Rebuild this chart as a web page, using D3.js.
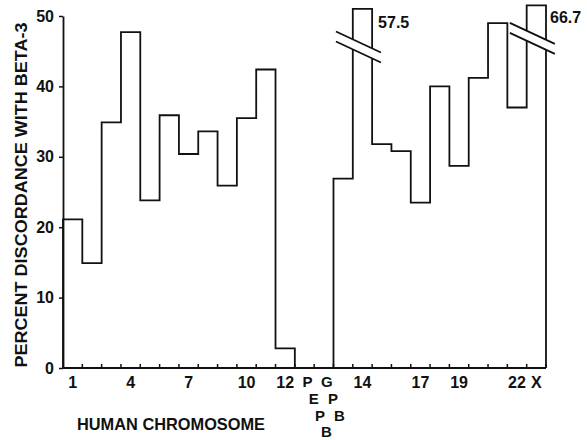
<!DOCTYPE html>
<html>
<head>
<meta charset="utf-8">
<script src="https://cdn.jsdelivr.net/npm/d3@7"></script>
<style>
  body { margin: 0; background: #fff; }
  text { font-family: "Liberation Sans", Arial, sans-serif; font-weight: bold; fill: #111; }
</style>
</head>
<body>
<div id="chart"></div>
<script>
// chromosome bins (PEPB and GPB marker columns sit between 12 and 13)
const chromosomes = ["1","2","3","4","5","6","7","8","9","10","11","12","PEPB","GPB",
  "13","14","15","16","17","18","19","20","21","22","X"];
// percent discordance with beta-3
const discordance = [21.1, 14.9, 34.9, 47.7, 23.8, 35.9, 30.4, 33.6, 25.9, 35.5, 42.4, 2.8, 0, 0,
  26.9, 57.5, 31.8, 30.8, 23.5, 40.0, 28.7, 41.2, 49.0, 37.0, 66.7];
// bars whose top is cut off by a break mark, and the height they are drawn to
const brokenCats = ["14", "X"];
const brokenShown = [51.0, 51.5];
const xTickLabels = ["1","4","7","10","12","14","17","19","22","X"];
const markerCols = ["PEPB", "GPB"];
const yTicks = [0, 10, 20, 30, 40, 50];

const width = 587, height = 440;
const margin = { top: 16, right: 41, bottom: 72, left: 63 };
const base = height - margin.bottom;
const ink = "#111";

const svg = d3.select("#chart").append("svg")
  .attr("width", width).attr("height", height);

const x = d3.scaleBand().domain(chromosomes)
  .range([margin.left, width - margin.right]).padding(0);
const y = d3.scaleLinear().domain([0, 50]).range([base, margin.top]);

// displayed value (capped for broken bars)
const shown = chromosomes.map((c, i) => {
  const k = brokenCats.indexOf(c);
  return k >= 0 ? brokenShown[k] : discordance[i];
});

// step outline
const pts = [[x(chromosomes[0]), y(0)]];
chromosomes.forEach((c, i) => {
  pts.push([x(c), y(shown[i])]);
  pts.push([x(c) + x.bandwidth(), y(shown[i])]);
});
pts.push([x(chromosomes[chromosomes.length - 1]) + x.bandwidth(), y(0)]);

svg.append("path")
  .attr("d", d3.line()(pts))
  .attr("fill", "none")
  .attr("stroke", ink)
  .attr("stroke-width", 1.8);

// break marks with the true value written beside them
brokenCats.forEach((c, k) => {
  const top = y(brokenShown[k]);
  const cx = x(c) + x.bandwidth() / 2 - 4;
  const cy = top + (c === "X" ? 33 : 38);
  const dx = 22.5, dy = 10.5, gap = 10;
  const g = svg.append("g");
  g.append("polygon")
    .attr("points", [[cx - dx, cy - dy - gap / 2], [cx + dx, cy + dy - gap / 2],
      [cx + dx, cy + dy + gap / 2], [cx - dx, cy - dy + gap / 2]].join(" "))
    .attr("fill", "#fff");
  [-gap / 2, gap / 2].forEach(o => {
    g.append("line")
      .attr("x1", cx - dx).attr("y1", cy - dy + o)
      .attr("x2", cx + dx).attr("y2", cy + dy + o)
      .attr("stroke", ink).attr("stroke-width", 1.8);
  });
  g.append("text")
    .attr("x", c === "X" ? x(c) + x.bandwidth() + 4 : x(c) + x.bandwidth() + 6)
    .attr("y", top + (c === "X" ? 18 : 19))
    .attr("font-size", 16)
    .text(discordance[chromosomes.indexOf(c)].toFixed(1));
});

// y axis
const yAxis = d3.axisLeft(y).tickValues(yTicks).tickSize(4).tickSizeOuter(0).tickPadding(5);
const yAxisG = svg.append("g")
  .attr("transform", "translate(" + margin.left + ",0)")
  .call(yAxis);
yAxisG.select(".domain").attr("stroke", ink).attr("stroke-width", 1.8);
yAxisG.selectAll(".tick line").attr("stroke", ink).attr("stroke-width", 1.5);
yAxisG.selectAll(".tick text")
  .attr("font-size", 16)
  .attr("font-family", null)
  .attr("fill", ink);

// x baseline and ticks at bin edges
svg.append("line")
  .attr("x1", margin.left).attr("x2", width - margin.right)
  .attr("y1", base).attr("y2", base)
  .attr("stroke", ink).attr("stroke-width", 1.8);

const edges = chromosomes.map(c => x(c) + x.bandwidth());
svg.append("g").selectAll("line")
  .data(edges)
  .join("line")
  .attr("x1", d => d).attr("x2", d => d)
  .attr("y1", base).attr("y2", base - 4)
  .attr("stroke", ink).attr("stroke-width", 1.5);

// x tick labels
svg.append("g").selectAll("text")
  .data(xTickLabels)
  .join("text")
  .attr("x", d => x(d) + x.bandwidth() / 2)
  .attr("y", base + 20)
  .attr("text-anchor", "middle")
  .attr("font-size", 16)
  .text(d => d);

// marker column labels written diagonally
const rowY = [base + 19, base + 36, base + 53, base + 69];
markerCols.forEach(m => {
  m.split("").forEach((ch, r) => {
    svg.append("text")
      .attr("x", x(m) + x.bandwidth() / 2 + 3 + 6.3 * r)
      .attr("y", rowY[r])
      .attr("text-anchor", "middle")
      .attr("font-size", 15)
      .text(ch);
  });
});

// axis titles
svg.append("text")
  .attr("x", 77).attr("y", 430)
  .attr("font-size", 16.5)
  .attr("textLength", 188)
  .attr("lengthAdjust", "spacingAndGlyphs")
  .text("HUMAN CHROMOSOME");

svg.append("text")
  .attr("transform", "translate(27,195) rotate(-90)")
  .attr("text-anchor", "middle")
  .attr("font-size", 16)
  .attr("textLength", 345)
  .attr("lengthAdjust", "spacingAndGlyphs")
  .text("PERCENT DISCORDANCE WITH BETA-3");
</script>
</body>
</html>
